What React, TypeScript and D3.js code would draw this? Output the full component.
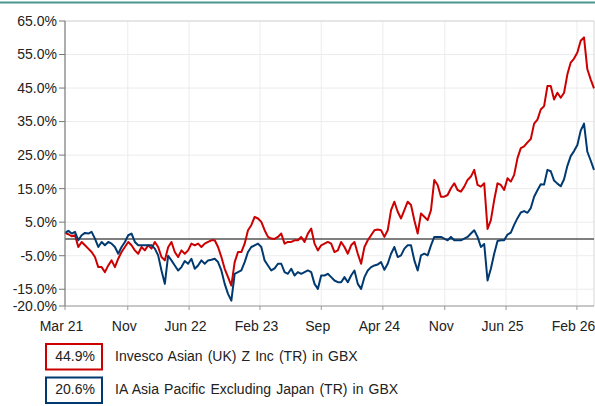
import React from "react";
import * as d3 from "d3";

const W = 595;
const H = 406;

const startDate = "2021-03-29";
const endDate = "2026-04-01";

const fundName = "Invesco Asian (UK) Z Inc (TR) in GBX";
const sectorName = "IA Asia Pacific Excluding Japan (TR) in GBX";
const fundReturn = "44.9%";
const sectorReturn = "20.6%";

const fundValues = [
  1.8, 1.4, 0.8, 1.1, -2.4, -0.9, -1.9, -2.9, -3.9, -5.4,
  -8.4, -8.4, -9.9, -7.9, -6.4, -8.4, -5.9, -3.9, -2.4, -0.9,
  -1.9, -3.4, -4.4, -2.4, -3.4, -1.9, -2.9, -0.9, -2.4, -5.4,
  -6.4, -2.5, -0.9, -3.9, -5.4, -3.4, -4.4, -3.4, -1.4, -1.9,
  -1.4, -2.4, -1.4, -0.9, -0.4, -0.4, -2.4, -5.4, -8.9, -11.4,
  -13.9, -6.9, -3.9, -3.9, -1.4, 2.6, 4.1, 6.6, 6.1, 5.1,
  2.6, 0.6, 0.1, 0.0, 0.6, 1.6, -1.4, -0.9, -0.9, -0.4,
  -0.4, 0.6, -0.9, 1.6, 3.1, -1.4, -3.4, -1.9, -1.4, -0.9,
  -1.4, -3.9, -3.4, -0.9, -2.4, -4.4, -1.9, -0.9, -4.4, -7.4,
  -2.4, -0.4, 1.1, 2.6, 2.8, 2.6, 0.6, 2.6, 8.6, 11.1,
  8.1, 6.1, 8.6, 11.1, 10.1, 5.6, 1.6, 7.6, 6.6, 5.6,
  8.6, 17.6, 16.1, 12.6, 12.6, 13.1, 15.1, 16.6, 14.6, 14.1,
  15.6, 17.6, 18.6, 20.6, 16.1, 15.6, 16.6, 3.0, 5.6, 11.6,
  16.6, 16.1, 14.6, 18.1, 17.1, 19.1, 24.1, 27.1, 27.6, 28.8,
  29.8, 34.4, 35.6, 38.6, 39.6, 45.6, 45.6, 41.6, 43.6, 42.1,
  43.6, 49.1, 52.6, 53.8, 55.6, 59.1, 60.1, 50.6, 47.6, 44.9,
];

const sectorValues = [
  1.8, 2.4, 1.6, 2.1, -0.4, 1.1, 1.8, 1.6, 2.1, 0.1,
  -2.4, -0.9, -1.9, -0.9, -1.4, -2.4, -4.4, -2.4, -0.9, 1.1,
  1.6, -0.9, -1.9, -1.9, -1.9, -1.9, -1.9, -2.9, -4.9, -9.4,
  -13.4, -5.0, -6.4, -7.9, -9.4, -8.4, -6.6, -7.4, -5.9, -8.9,
  -7.9, -6.4, -7.4, -6.4, -6.2, -5.9, -6.9, -9.4, -13.4, -16.4,
  -18.4, -10.4, -9.9, -9.4, -6.9, -3.9, -2.4, -1.9, -1.4, -2.4,
  -6.4, -7.9, -9.4, -8.8, -7.4, -7.4, -9.9, -10.4, -8.9, -10.9,
  -9.9, -10.4, -9.9, -9.4, -9.9, -13.4, -14.9, -10.9, -10.9, -10.4,
  -11.4, -12.4, -12.9, -12.9, -11.4, -12.9, -10.9, -9.4, -13.4, -14.9,
  -11.4, -9.4, -8.4, -7.9, -7.6, -6.9, -9.2, -7.4, -4.4, -2.4,
  -5.4, -4.9, -2.9, -1.9, -1.9, -6.4, -9.4, -4.9, -4.4, -4.9,
  -1.9, 0.6, 0.6, 0.6, 0.1, -0.4, 0.6, -0.4, -0.4, -0.4,
  0.1, 0.6, 1.6, 2.6, 0.6, -2.4, -1.5, -12.4, -8.9, -4.4,
  -0.6, -0.4, -0.4, 1.3, 1.9, 4.2, 6.2, 7.9, 8.3, 7.8,
  9.2, 12.6, 14.5, 16.3, 16.2, 20.6, 20.2, 17.4, 16.5, 15.7,
  17.8, 21.8, 24.7, 26.2, 28.0, 32.3, 34.4, 26.0, 23.4, 20.6,
];

const xTickDates = [
  "2021-03-29", "2021-11-01", "2022-06-01", "2023-02-01", "2023-09-01",
  "2024-04-01", "2024-11-01", "2025-06-01", "2026-02-01",
];
const xTickLabels = ["Mar 21", "Nov", "Jun 22", "Feb 23", "Sep", "Apr 24", "Nov", "Jun 25", "Feb 26"];
const yTicks = [65, 55, 45, 35, 25, 15, 5, -5, -15, -20];

const RED = "#cc0000";
const BLUE = "#003a70";
const FONT = "'Liberation Sans', Arial, sans-serif";

export default function App() {
  const left = 65, right = 594, top = 21, bottom = 306;
  const parse = d3.timeParse("%Y-%m-%d");
  const t0 = parse(startDate)!;
  const t1 = parse(endDate)!;
  const x = d3.scaleTime().domain([t0, t1]).range([left, right]);
  const y = d3.scaleLinear().domain([-20, 65]).range([bottom, top]);
  const n = fundValues.length;
  const dateAt = (i: number) => new Date(t0.getTime() + (i * (t1.getTime() - t0.getTime())) / (n - 1));

  const line = d3
    .line<number>()
    .x((_, i) => x(dateAt(i)))
    .y((d) => y(d));

  const ticks = xTickDates.map((s) => parse(s)!);

  return (
    <svg
      width={W}
      height={H}
      style={{ position: "absolute", left: 0, top: 0, background: "#fff" }}
      fontFamily={FONT}
    >
      <rect x={0} y={0} width={W} height={H} fill="#fff" />
      <line x1={0} x2={W} y1={2.5} y2={2.5} stroke="#4a9690" strokeWidth={1.8} />

      {/* grid */}
      {yTicks.map((v) => (
        <line key={"gy" + v} x1={left} x2={right} y1={y(v)} y2={y(v)} stroke="#ececec" strokeWidth={1} />
      ))}
      {ticks.slice(1).map((d, i) => (
        <line key={"gx" + i} x1={x(d)} x2={x(d)} y1={top} y2={bottom} stroke="#ececec" strokeWidth={1} />
      ))}
      {/* frame top/right */}
      <line x1={left} x2={right} y1={top} y2={top} stroke="#d6d6d6" strokeWidth={1} />
      <line x1={right} x2={right} y1={top} y2={bottom} stroke="#d6d6d6" strokeWidth={1} />

      {/* zero line */}
      <line x1={left} x2={right} y1={y(0)} y2={y(0)} stroke="#555" strokeWidth={1.5} />

      {/* series */}
      <path d={line(fundValues) || ""} fill="none" stroke={RED} strokeWidth={2} strokeLinejoin="round" />
      <path d={line(sectorValues) || ""} fill="none" stroke={BLUE} strokeWidth={2} strokeLinejoin="round" />

      {/* axes */}
      <line x1={left} x2={left} y1={top} y2={bottom} stroke="#777" strokeWidth={1.2} />
      <line x1={left} x2={right} y1={bottom} y2={bottom} stroke="#999" strokeWidth={1.2} />
      {yTicks.map((v) => (
        <g key={"yt" + v}>
          <line x1={left - 6} x2={left} y1={y(v)} y2={y(v)} stroke="#777" strokeWidth={1} />
          <text x={57} y={y(v)} dy="0.35em" textAnchor="end" fontSize={14} fill="#222">
            {v.toFixed(1) + "%"}
          </text>
        </g>
      ))}
      {ticks.map((d, i) => (
        <g key={"xt" + i}>
          <line x1={x(d)} x2={x(d)} y1={bottom} y2={bottom + 4} stroke="#999" strokeWidth={1} />
          <text x={x(d) - 3.5} y={331} textAnchor="middle" fontSize={14} fill="#222">
            {xTickLabels[i]}
          </text>
        </g>
      ))}

      {/* legend */}
      <rect x={46} y={344} width={56} height={25.5} fill="#fff" stroke={RED} strokeWidth={2} />
      <text x={95} y={361} textAnchor="end" fontSize={14} fill="#222">{fundReturn}</text>
      <text x={115} y={361} fontSize={14} fill="#222" wordSpacing={1.2}>{fundName}</text>
      <rect x={46} y={377.5} width={56} height={25.5} fill="#fff" stroke={BLUE} strokeWidth={2} />
      <text x={95} y={394} textAnchor="end" fontSize={14} fill="#222">{sectorReturn}</text>
      <text x={115} y={394} fontSize={14} fill="#222" wordSpacing={1.2}>{sectorName}</text>
    </svg>
  );
}
